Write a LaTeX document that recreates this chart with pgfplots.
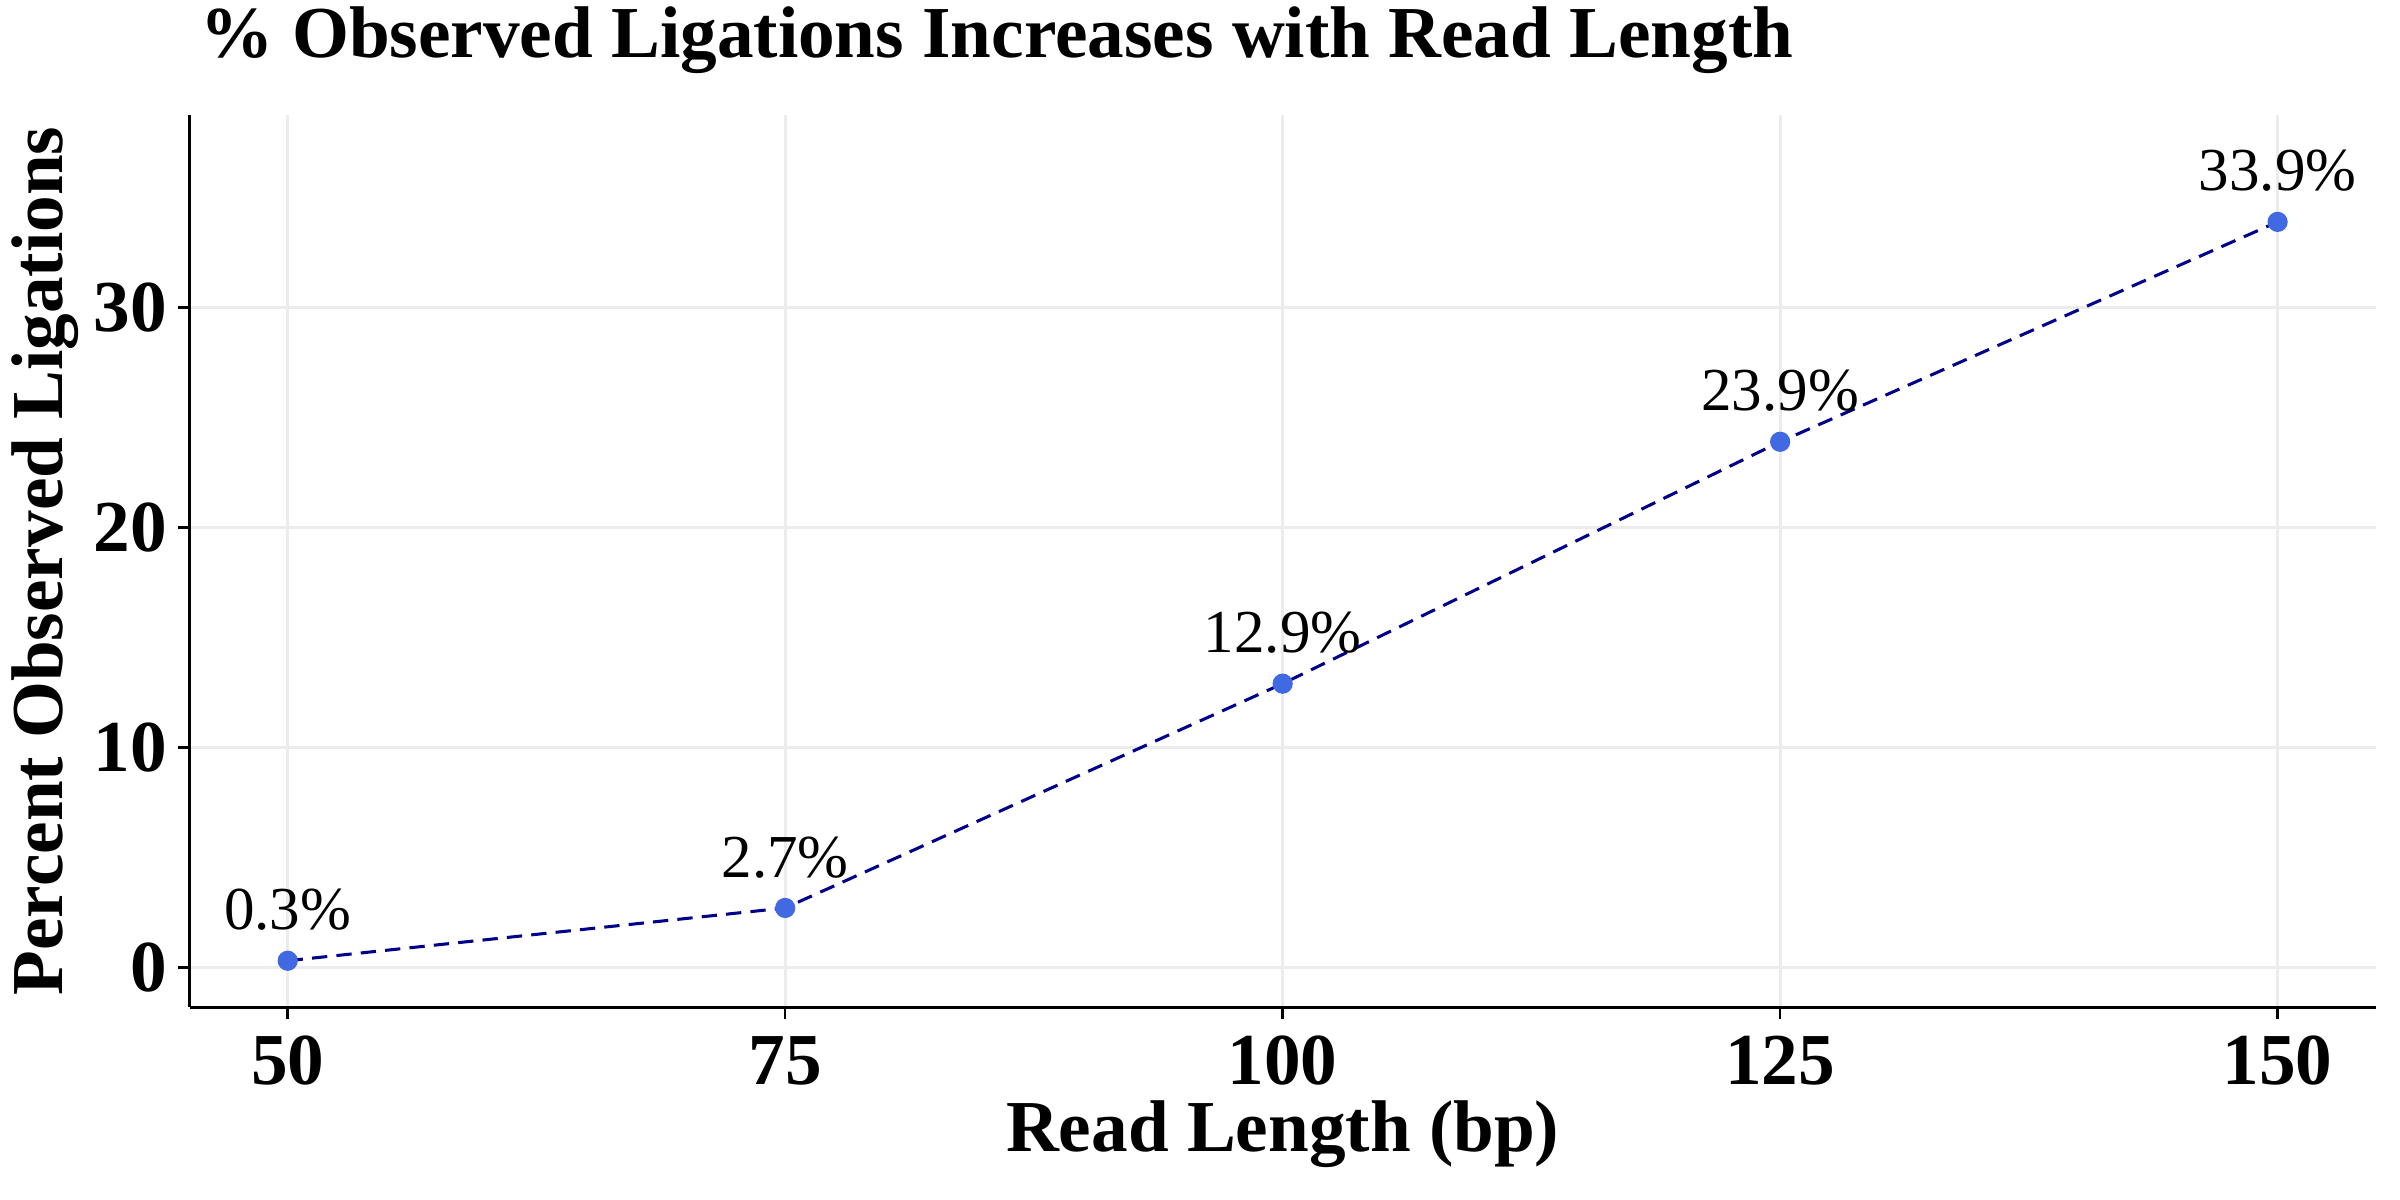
\documentclass[border=0pt]{standalone}
\usepackage{pgfplots}
\pgfplotsset{compat=1.18}
\usepackage{fontspec}
\setmainfont{Liberation Serif}
\definecolor{royal}{RGB}{65,105,225}
\definecolor{navyc}{RGB}{0,0,139}
\begin{document}
\begin{tikzpicture}
\path[use as bounding box] (-62bp,-63bp) rectangle (722bp,329bp);
\begin{axis}[
  scale only axis, width=714bp, height=291.5bp,
  at={(0,0)}, anchor=south west,
  xmin=45.08, xmax=154.92, ymin=-1.81, ymax=38.77,
  axis x line*=bottom, axis y line*=left,
  axis line style={line width=1pt,-},
  xtick={50,75,100,125,150}, ytick={0,10,20,30},
  tick align=outside, major tick length=4bp,
  tick style={line width=0.8pt,black},
  grid=major, grid style={gray!15,line width=1pt},
  /pgf/number format/assume math mode=true,
  ticklabel style={font=\fontsize{24}{26}\selectfont\bfseries},
  xticklabel style={yshift=-2bp},
  xlabel={Read Length (bp)}, ylabel={Percent Observed Ligations},
  label style={font=\fontsize{24}{28}\selectfont\bfseries},
  xlabel style={yshift=2bp},
  ylabel style={yshift=-2bp},
  title={\% Observed Ligations Increases with Read Length},
  title style={font=\fontsize{24}{28}\selectfont\bfseries, at={(0,1)}, anchor=south west, xshift=0bp, yshift=4bp},
  clip=false,
]
\addplot[navyc, line width=1pt, dash pattern=on 5bp off 3bp,
  mark=*, mark size=2.8bp, mark options={solid, fill=royal, draw=royal},
  nodes near coords, point meta=explicit symbolic,
  every node near coord/.style={font=\fontsize{20}{22}\selectfont, black, anchor=south, yshift=6bp}]
  table[meta=lab] {
x y lab
50 0.3 0.3\%
75 2.7 2.7\%
100 12.9 12.9\%
125 23.9 23.9\%
150 33.9 33.9\%
};
\end{axis}
\end{tikzpicture}
\end{document}
